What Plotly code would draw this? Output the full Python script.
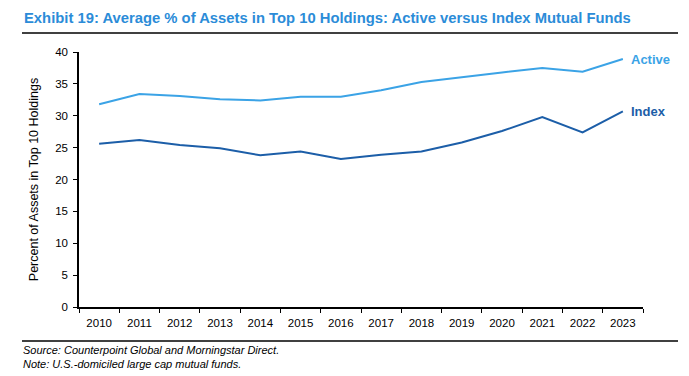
import plotly.graph_objects as go

years = [str(y) for y in range(2010, 2024)]
active = [31.8, 33.4, 33.1, 32.6, 32.4, 33.0, 33.0, 34.0, 35.3, 36.1, 36.8, 37.5, 36.9, 38.9]
index_vals = [25.6, 26.2, 25.4, 24.9, 23.8, 24.4, 23.2, 23.9, 24.4, 25.8, 27.6, 29.8, 27.4, 30.7]
y_ticks = [0, 5, 10, 15, 20, 25, 30, 35, 40]

ACTIVE_C = "#3BA3E6"
INDEX_C = "#1C5EA8"
FONT = "Liberation Sans, Arial, sans-serif"

W, H = 689, 376
L, R, T, B = 79, 643, 52, 307


def px(x):
    return (x - L) / (R - L)


def py(y):
    return (B - y) / (B - T)


fig = go.Figure()
fig.add_trace(go.Scatter(x=years, y=active, mode="lines", name="Active",
                         line=dict(color=ACTIVE_C, width=2)))
fig.add_trace(go.Scatter(x=years, y=index_vals, mode="lines", name="Index",
                         line=dict(color=INDEX_C, width=2)))

last = len(years) - 1
fig.add_annotation(xref="x", yref="y", x=last, y=active[-1], text="<b>Active</b>", showarrow=False,
                   xanchor="left", yanchor="middle", xshift=6, font=dict(color=ACTIVE_C, size=13, family=FONT))
fig.add_annotation(xref="x", yref="y", x=last, y=index_vals[-1], text="<b>Index</b>", showarrow=False,
                   xanchor="left", yanchor="middle", xshift=6, font=dict(color=INDEX_C, size=13, family=FONT))

fig.add_annotation(xref="paper", yref="paper", x=px(22), y=py(18),
                   text="<b>Exhibit 19: Average % of Assets in Top 10 Holdings: Active versus Index Mutual Funds</b>",
                   showarrow=False, xanchor="left", yanchor="middle",
                   font=dict(color="#2B8CD8", size=14.8, family=FONT))
fig.add_annotation(xref="paper", yref="paper", x=px(21), y=py(350),
                   text="<i>Source: Counterpoint Global and Morningstar Direct.</i>",
                   showarrow=False, xanchor="left", yanchor="middle",
                   font=dict(color="black", size=11, family=FONT))
fig.add_annotation(xref="paper", yref="paper", x=px(21), y=py(364),
                   text="<i>Note: U.S.-domiciled large cap mutual funds.</i>",
                   showarrow=False, xanchor="left", yanchor="middle",
                   font=dict(color="black", size=11, family=FONT))

for yy in (33, 341):
    fig.add_shape(type="line", xref="paper", yref="paper", x0=px(22), x1=px(678), y0=py(yy), y1=py(yy),
                  line=dict(color="black", width=1.3))

fig.update_layout(
    width=W, height=H,
    margin=dict(l=L, r=W - R, t=T, b=H - B),
    plot_bgcolor="white", paper_bgcolor="white",
    showlegend=False,
    font=dict(family=FONT, size=11, color="black"),
    xaxis=dict(type="category", range=[-0.5, 13.5], showline=True, linecolor="black", linewidth=1.5,
               ticks="outside", tickson="boundaries", ticklen=4, tickcolor="black", showgrid=False,
               tickfont=dict(size=11.5, family=FONT), zeroline=False, ticklabelstandoff=4),
    yaxis=dict(range=[0, 40], tickvals=y_ticks, showline=True, linecolor="black", linewidth=1.5,
               ticks="outside", ticklen=4, tickcolor="black", showgrid=False, zeroline=False,
               tickfont=dict(size=11.5, family=FONT), ticklabelstandoff=3,
               title=dict(text="Percent of Assets in Top 10 Holdings", font=dict(size=12.5, family=FONT), standoff=14)),
)

fig.write_html("out.html", config={"displayModeBar": False},
               post_script="document.body.style.margin='0';")
